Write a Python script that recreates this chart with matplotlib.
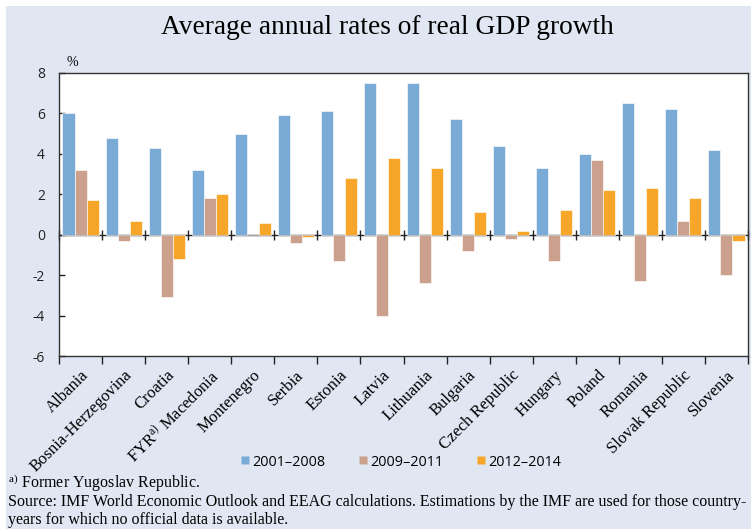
import matplotlib
matplotlib.use("Agg")
import matplotlib.pyplot as plt
from matplotlib.patches import Rectangle
from matplotlib.lines import Line2D
import numpy as np

countries = ["Albania", "Bosnia-Herzegovina", "Croatia", r"FYR$^{\rm a)}$ Macedonia",
             "Montenegro", "Serbia", "Estonia", "Latvia", "Lithuania", "Bulgaria",
             "Czech Republic", "Hungary", "Poland", "Romania", "Slovak Republic", "Slovenia"]
g2001_2008 = [6.0, 4.8, 4.3, 3.2, 5.0, 5.9, 6.1, 7.5, 7.5, 5.7, 4.4, 3.3, 4.0, 6.5, 6.2, 4.2]
g2009_2011 = [3.2, -0.3, -3.1, 1.8, 0.0, -0.4, -1.3, -4.0, -2.4, -0.8, -0.2, -1.3, 3.7, -2.3, 0.7, -2.0]
g2012_2014 = [1.7, 0.7, -1.2, 2.0, 0.6, -0.1, 2.8, 3.8, 3.3, 1.1, 0.2, 1.2, 2.2, 2.3, 1.8, -0.3]
series_labels = ["2001\u20132008", "2009\u20132011", "2012\u20132014"]
yticks = [-6, -4, -2, 0, 2, 4, 6, 8]
ymin, ymax = -6, 8

colors = ["#7aabd6", "#cba08c", "#f7a629"]
panel = "#e0e7f3"

plt.rcParams["mathtext.fontset"] = "custom"
plt.rcParams["mathtext.rm"] = "Liberation Serif"
plt.rcParams["mathtext.it"] = "Liberation Serif:italic"

fig = plt.figure(figsize=(7.51, 5.29), dpi=100)
fig.patch.set_facecolor("white")
fig.patches.append(Rectangle((6 / 751, 0), 1 - 6 / 751, 1 - 6 / 529,
                             transform=fig.transFigure, facecolor=panel,
                             edgecolor="none", zorder=-5))

ax = fig.add_axes([59 / 751, 1 - 356 / 529, (748 - 59) / 751, (356 - 73) / 529])
ax.set_zorder(2)
ax.set_facecolor("white")

n = len(countries)
x = np.arange(n)
w = 0.28
series = [g2001_2008, g2009_2011, g2012_2014]
for i, (vals, c) in enumerate(zip(series, colors)):
    ax.bar(x + (i - 1) * w, vals, width=w, color=c,
           edgecolor=(1, 1, 1, 0.6), linewidth=0.7, zorder=2)

ax.set_xlim(-0.5, n - 0.5)
ax.set_ylim(ymin, ymax)
ax.set_yticks(yticks)
ax.set_yticklabels([str(t) for t in yticks], family="Open Sans", fontsize=10)
ax.tick_params(axis="y", direction="in", length=4, width=1, pad=10, colors="#222222")

boundaries = np.arange(n + 1) - 0.5
ax.set_xticks(boundaries)
ax.set_xticklabels([])
ax.tick_params(axis="x", which="major", direction="out", length=6, width=1, color="#222222")
ax.set_xticks(x, minor=True)
ax.set_xticklabels(countries, minor=True, rotation=45, ha="right",
                   rotation_mode="anchor", family="Liberation Serif", fontsize=12)
ax.tick_params(axis="x", which="minor", length=0, pad=8)

for s in ax.spines.values():
    s.set_color("#333333")
    s.set_linewidth(1.0)

# zero line with boundary ticks
zero_loc = (0 - ymin) / (ymax - ymin)
sec = ax.secondary_xaxis(zero_loc)
sec.set_xticks(boundaries)
sec.set_xticklabels([])
sec.tick_params(direction="inout", length=7, width=1, color="#222222")
sec.spines["bottom"].set_color("#222222")
sec.spines["bottom"].set_linewidth(1.0)

fig.text(387 / 751, 1 - 27 / 529, "Average annual rates of real GDP growth",
         ha="center", va="center", family="Liberation Serif", fontsize=19.7)
fig.text(72 / 751, 1 - 62 / 529, "%", ha="center", va="center",
         family="Liberation Serif", fontsize=10)

handles = [Line2D([], [], marker="s", linestyle="none", markersize=6,
                  markerfacecolor=c, markeredgecolor="none") for c in colors]
fig.legend(handles, series_labels, loc="center", bbox_to_anchor=(400 / 751, 1 - 462 / 529),
           ncol=3, frameon=False, prop={"family": "Open Sans", "size": 10.4},
           handletextpad=0.1, columnspacing=2.2, handlelength=0.8)

fs_note = 11.5
fig.text(8 / 751, 1 - 483 / 529, r"$^{\rm a)}$ Former Yugoslav Republic.",
         ha="left", va="center", family="Liberation Serif", fontsize=fs_note)
fig.text(8 / 751, 1 - 502 / 529,
         "Source: IMF World Economic Outlook and EEAG calculations. Estimations by the IMF are used for those country-",
         ha="left", va="center", family="Liberation Serif", fontsize=fs_note)
fig.text(8 / 751, 1 - 520 / 529, "years for which no official data is available.",
         ha="left", va="center", family="Liberation Serif", fontsize=fs_note)

fig.savefig("out.png", dpi=100, facecolor=fig.get_facecolor())
